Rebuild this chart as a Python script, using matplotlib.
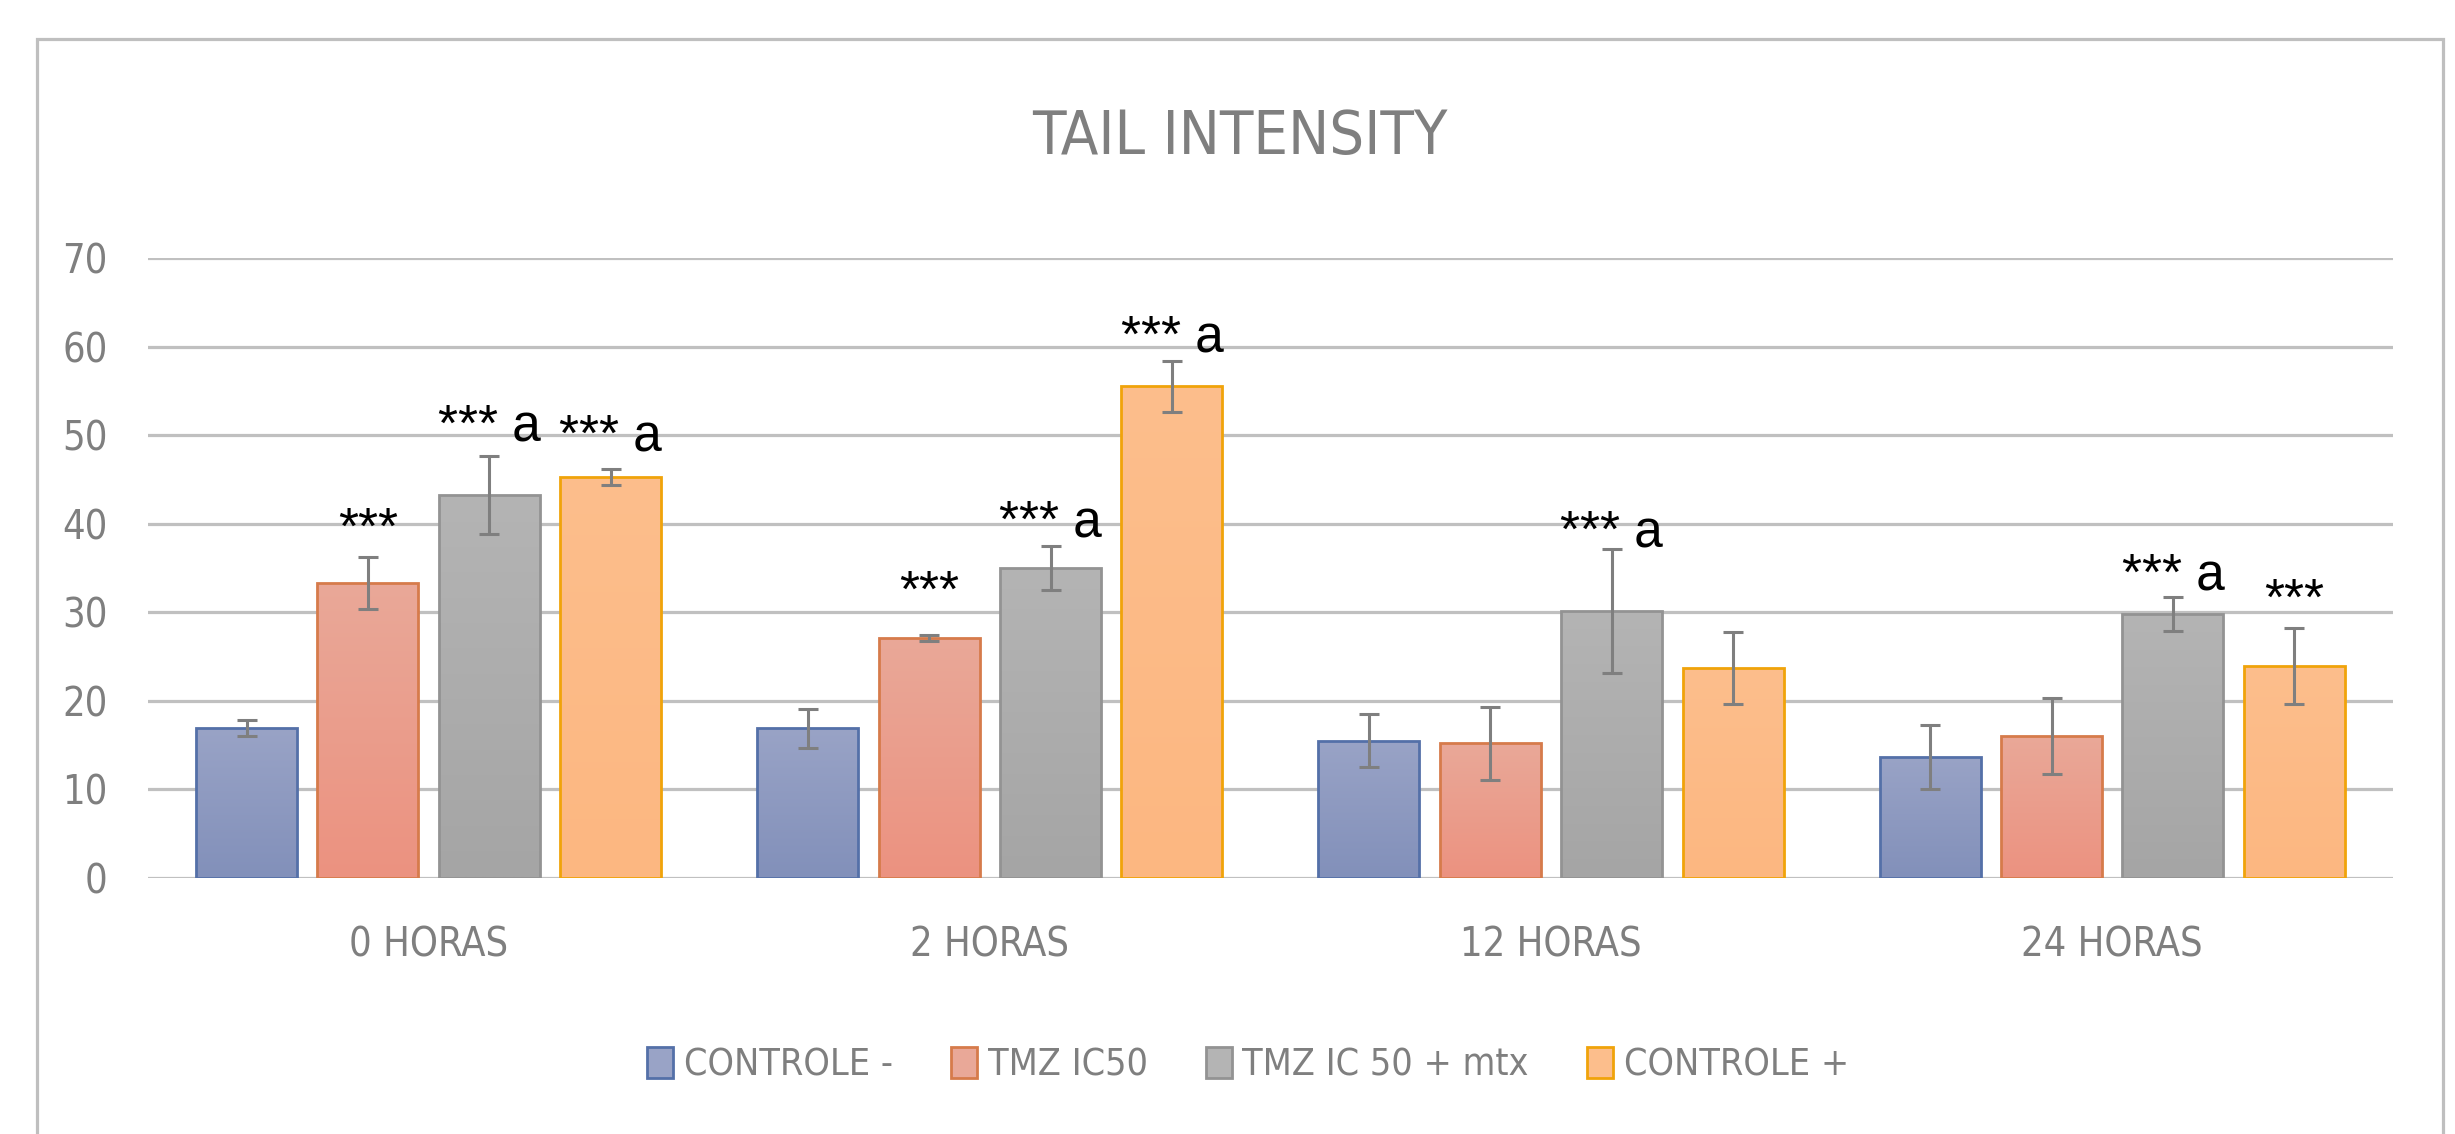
import numpy as np
import matplotlib
matplotlib.use("Agg")
import matplotlib.pyplot as plt
import matplotlib.font_manager as fm
from matplotlib.patches import Patch, Rectangle
from matplotlib.colors import to_rgb

# ---- data -------------------------------------------------------------
categories = ["0 HORAS", "2 HORAS", "12 HORAS", "24 HORAS"]
series_names = ["CONTROLE -", "TMZ IC50", "TMZ IC 50 + mtx", "CONTROLE +"]

controle_neg = [16.9, 16.9, 15.5, 13.7]
controle_neg_err = [0.9, 2.2, 3.0, 3.6]

tmz_ic50 = [33.3, 27.1, 15.2, 16.0]
tmz_ic50_err = [2.9, 0.3, 4.1, 4.3]

tmz_mtx = [43.2, 35.0, 30.2, 29.8]
tmz_mtx_err = [4.4, 2.5, 7.0, 1.9]

controle_pos = [45.3, 55.5, 23.7, 23.9]
controle_pos_err = [0.9, 2.9, 4.1, 4.3]

# significance marks per series (empty string = no mark)
sig_neg = ["", "", "", ""]
sig_tmz = ["***", "***", "", ""]
sig_mtx = ["*** a", "*** a", "*** a", "*** a"]
sig_pos = ["*** a", "*** a", "", "***"]

y_ticks = [0, 10, 20, 30, 40, 50, 60, 70]

# ---- layout / style ---------------------------------------------------
# vertical placement of the significance marks (axis units)
sig_neg_y = [None, None, None, None]
sig_tmz_y = [39.3, 32.2, None, None]
sig_mtx_y = [50.9, 40.1, 39.0, 34.1]
sig_pos_y = [49.8, 61.0, None, 31.3]

# (top colour, bottom colour, edge colour)
styles = [
    ("#99A3C6", "#8290BA", "#5470A8"),
    ("#E9A898", "#EC9280", "#D67B4B"),
    ("#B4B4B4", "#A5A5A5", "#939393"),
    ("#FCBE8C", "#FDB781", "#F0A30A"),
]

values = [controle_neg, tmz_ic50, tmz_mtx, controle_pos]
errors = [controle_neg_err, tmz_ic50_err, tmz_mtx_err, controle_pos_err]
sigs = [sig_neg, sig_tmz, sig_mtx, sig_pos]
sig_ys = [sig_neg_y, sig_tmz_y, sig_mtx_y, sig_pos_y]

TEXT_GRAY = "#7F7F7F"
GRID_GRAY = "#C0C0C0"


def narrow_font():
    """Return the file of an installed condensed sans face, if any."""
    prefs = ["Liberation Sans Narrow", "Noto Sans", "Open Sans", "Roboto",
             "DejaVu Sans", "Lato", "Inter"]
    for fam in prefs:
        for f in fm.fontManager.ttflist:
            if f.name != fam or f.style != "normal":
                continue
            if f.weight not in (400, "normal", "regular", "book", "Regular"):
                continue
            narrow = fam == "Liberation Sans Narrow" or str(f.stretch) in (
                "condensed", "semi-condensed", "extra-condensed")
            if narrow:
                return f.fname
    return None


fpath = narrow_font()
if fpath:
    label_font = fm.FontProperties(fname=fpath)
    base_size, tick_size, title_size = 27, 28.5, 44
else:
    label_font = fm.FontProperties(family=["Liberation Sans", "DejaVu Sans"])
    base_size, tick_size, title_size = 24, 26, 40

fig = plt.figure(figsize=(24.55, 11.34), dpi=100)
fig.patch.set_facecolor("white")
ax = fig.add_axes([0.0603, 0.2257, 0.9144, 0.5468])

x = np.arange(len(categories))
step = 0.2163
width = 0.18

legend_handles = []
for k, (vals, errs, (top_c, bot_c, edge_c)) in enumerate(zip(values, errors, styles)):
    pos = x + (k - 1.5) * step
    bars = ax.bar(pos, vals, width=width, facecolor="none", edgecolor=edge_c,
                  linewidth=2.0, zorder=3)
    # vertical gradient fill, clipped to each bar
    t = np.linspace(0, 1, 128)[:, None]
    c_top = np.array(to_rgb(top_c))
    c_bot = np.array(to_rgb(bot_c))
    grad = (1 - t)[:, :, None] * c_top[None, None, :] + t[:, :, None] * c_bot[None, None, :]
    for b in bars:
        x0, h, w = b.get_x(), b.get_height(), b.get_width()
        im = ax.imshow(grad, extent=(x0, x0 + w, 0, h), aspect="auto",
                       origin="upper", zorder=2, interpolation="bilinear")
        im.set_clip_path(b)
    ax.errorbar(pos, vals, yerr=errs, fmt="none", ecolor="#7F7F7F",
                elinewidth=2.2, capsize=7.5, capthick=2.2, zorder=4)
    for xi, s, sy in zip(pos, sigs[k], sig_ys[k]):
        if s:
            ax.text(xi, sy, s, ha="center", va="center", fontsize=37,
                    color="black", family=["Liberation Sans", "DejaVu Sans"],
                    zorder=5)
    legend_handles.append(Patch(facecolor=top_c, edgecolor=edge_c,
                                linewidth=2.0, label=series_names[k]))

ax.set_xlim(-0.5, len(categories) - 0.5)
ax.set_ylim(0, 70)
ax.set_yticks(y_ticks)
ax.set_xticks(x)
ax.set_xticklabels(categories)

ax.set_axisbelow(True)
ax.yaxis.grid(True, color=GRID_GRAY, linewidth=2.3)
ax.xaxis.grid(False)
for sp in ax.spines.values():
    sp.set_visible(False)
ax.tick_params(axis="both", length=0, labelcolor=TEXT_GRAY)
ax.tick_params(axis="y", pad=29)
ax.tick_params(axis="x", pad=34)
for lab in ax.get_xticklabels() + ax.get_yticklabels():
    lab.set_fontproperties(label_font)
    lab.set_fontsize(tick_size)
ax.set_facecolor("white")

fig.text(1240 / 2455, 1 - 138 / 1134, "TAIL INTENSITY", ha="center", va="center",
         fontproperties=label_font, fontsize=title_size, color=TEXT_GRAY)

leg_font = label_font.copy()
leg_font.set_size(base_size)
fig.legend(handles=legend_handles, loc="center", bbox_to_anchor=(1248 / 2455, 0.061),
           ncol=4, frameon=False, prop=leg_font, labelcolor=TEXT_GRAY,
           handlelength=0.7, handleheight=0.9, handletextpad=0.28,
           columnspacing=1.55)

# chart-area border (bottom edge runs past the canvas)
fig.patches.append(Rectangle((37 / 2455, -0.1), (2443 - 37) / 2455, 1.1 - 39 / 1134,
                             transform=fig.transFigure, fill=False,
                             edgecolor="#BFBFBF", linewidth=2.3, clip_on=False))

fig.savefig("out.png", dpi=100, facecolor="white")
